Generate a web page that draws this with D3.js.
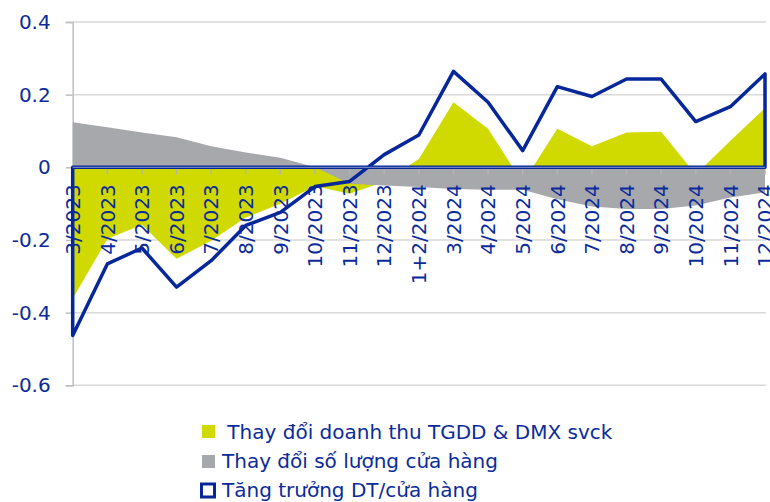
<!DOCTYPE html>
<html>
<head>
<meta charset="utf-8">
<style>
  body, html { margin: 0; padding: 0; background: #fff; }
  text { font-family: 'DejaVu Sans', sans-serif; }
</style>
</head>
<body>
<svg id="svg" width="770" height="502"></svg>
<script src="https://d3js.org/d3.v7.min.js"></script>
<script>
// data
const categories = ['3/2023', '4/2023', '5/2023', '6/2023', '7/2023', '8/2023', '9/2023', '10/2023',
  '11/2023', '12/2023', '1+2/2024', '3/2024', '4/2024', '5/2024', '6/2024', '7/2024', '8/2024',
  '9/2024', '10/2024', '11/2024', '12/2024']
const revenueChange = [-0.362, -0.197, -0.158, -0.252, -0.202, -0.138, -0.100, -0.052, -0.073, -0.040,
  0.023, 0.179, 0.106, -0.043, 0.106, 0.058, 0.096, 0.098, -0.020, 0.073, 0.163]
const storeChange = [0.124, 0.110, 0.096, 0.083, 0.058, 0.041, 0.026, 0.000, -0.045, -0.050,
  -0.054, -0.060, -0.062, -0.062, -0.088, -0.108, -0.115, -0.115, -0.105, -0.083, -0.069]
const revPerStore = [-0.463, -0.266, -0.222, -0.330, -0.257, -0.160, -0.124, -0.053, -0.039, 0.035,
  0.089, 0.264, 0.179, 0.046, 0.222, 0.195, 0.243, 0.243, 0.126, 0.167, 0.257]
const yTicks = [0.4, 0.2, 0, -0.2, -0.4, -0.6]
const yTickLabels = ['0.4', '0.2', '0', '-0.2', '-0.4', '-0.6']
const legendLabels = [' Thay đổi doanh thu TGDD & DMX svck', 'Thay đổi số lượng cửa hàng', 'Tăng trưởng DT/cửa hàng']

const textColor = '#0b2b9b'
const lineColor = '#06279a'
const yellow = '#d0da00'
const gray = '#a7a8ab'

const svg = d3.select('#svg')

const x = d3.scalePoint().domain(categories).range([72.7, 765])
const y = d3.scaleLinear().domain([-0.6, 0.4]).range([385.3, 22])

// gridlines
svg.append('g')
  .selectAll('line')
  .data(yTicks.filter(d => d !== 0))
  .enter()
  .append('line')
  .attr('x1', 72.7)
  .attr('x2', 766)
  .attr('y1', d => y(d))
  .attr('y2', d => y(d))
  .attr('stroke', '#d9d9d9')
  .attr('stroke-width', 1.5)

// y axis
const yAxis = svg.append('g')
  .attr('transform', 'translate(72.7,0)')
  .call(d3.axisLeft(y).tickValues(yTicks).tickSize(7).tickPadding(15)
    .tickFormat((d, i) => yTickLabels[i]))
yAxis.select('.domain').attr('stroke', '#bfbfbf').attr('stroke-width', 1.5)
yAxis.selectAll('.tick line').attr('stroke', '#bfbfbf').attr('stroke-width', 1.5)
yAxis.selectAll('.tick text')
  .attr('fill', textColor)
  .attr('font-size', 20)
  .attr('font-family', 'DejaVu Sans')

// areas
const rows = categories.map((c, i) => ({ c, rev: revenueChange[i], store: storeChange[i], per: revPerStore[i] }))

const areaOf = key => d3.area()
  .x(d => x(d.c))
  .y0(y(0))
  .y1(d => y(d[key]))

svg.append('path')
  .datum(rows)
  .attr('d', areaOf('rev'))
  .attr('fill', yellow)

svg.append('path')
  .datum(rows)
  .attr('d', areaOf('store'))
  .attr('fill', gray)

// x ticks & labels
const xg = svg.append('g')
xg.selectAll('line')
  .data(categories)
  .enter()
  .append('line')
  .attr('x1', d => x(d))
  .attr('x2', d => x(d))
  .attr('y1', y(0))
  .attr('y2', y(0) + 7)
  .attr('stroke', '#b4b4b4')
  .attr('stroke-width', 1.5)

xg.selectAll('text')
  .data(categories)
  .enter()
  .append('text')
  .attr('transform', d => `translate(${x(d)},${y(0) + 17}) rotate(-90)`)
  .attr('text-anchor', 'end')
  .attr('dy', '0.36em')
  .attr('font-size', 20)
  .attr('fill', textColor)
  .text(d => d)

// revenue per store: outlined area
svg.append('path')
  .datum(rows)
  .attr('d', areaOf('per'))
  .attr('fill', 'none')
  .attr('stroke', lineColor)
  .attr('stroke-width', 3.5)
  .attr('stroke-linejoin', 'round')

svg.append('line')
  .attr('x1', 72.7)
  .attr('x2', 765)
  .attr('y1', y(0))
  .attr('y2', y(0))
  .attr('stroke', '#8493cc')
  .attr('stroke-width', 1)

// legend
const legend = svg.append('g')
const ly = [432, 461, 490]

legend.append('rect').attr('x', 202).attr('y', ly[0] - 7).attr('width', 13).attr('height', 13).attr('fill', yellow)
legend.append('rect').attr('x', 202).attr('y', ly[1] - 6).attr('width', 13).attr('height', 13).attr('fill', gray)
legend.append('rect').attr('x', 201.5).attr('y', ly[2] - 6).attr('width', 13).attr('height', 13)
  .attr('fill', 'none').attr('stroke', lineColor).attr('stroke-width', 3)

legend.selectAll('text')
  .data(legendLabels)
  .enter()
  .append('text')
  .attr('x', (d, i) => [221, 222, 222][i])
  .attr('y', (d, i) => ly[i])
  .attr('dy', '0.36em')
  .attr('font-size', 20)
  .attr('fill', textColor)
  .attr('xml:space', 'preserve')
  .style('white-space', 'pre')
  .text(d => d)
</script>
</body>
</html>
